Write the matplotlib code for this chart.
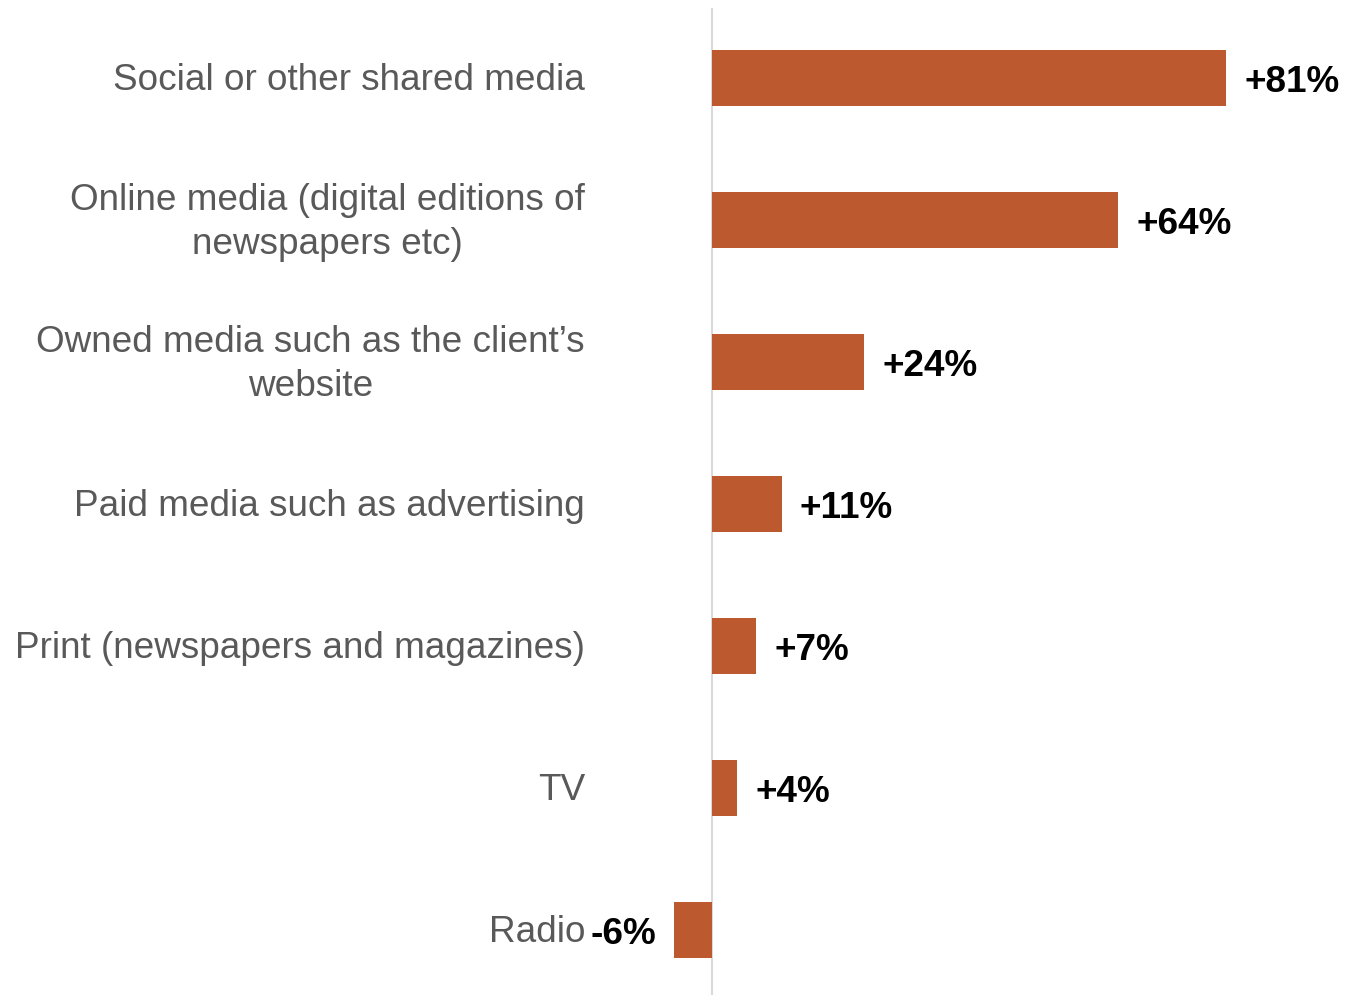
import matplotlib
matplotlib.use("Agg")
import matplotlib.pyplot as plt
from matplotlib.transforms import blended_transform_factory

plt.rcParams['font.family'] = ['Liberation Sans', 'DejaVu Sans']

categories = [
    "Social or other shared media",
    "Online media (digital editions of\nnewspapers etc)",
    "Owned media such as the client\u2019s\nwebsite",
    "Paid media such as advertising",
    "Print (newspapers and magazines)",
    "TV",
    "Radio",
]
values = [81, 64, 24, 11, 7, 4, -6]
value_labels = ["+81%", "+64%", "+24%", "+11%", "+7%", "+4%", "-6%"]

W, H, DPI = 1345, 996, 100
fig = plt.figure(figsize=(W / DPI, H / DPI), dpi=DPI)

# axes geometry in pixels: zero line at x=712, 6.35 px per percentage point
x0_px, scale = 712.0, 6.35
xmin, xmax = -10, 100
left_px = x0_px + xmin * scale
right_px = x0_px + xmax * scale
top_px, bottom_px = 8, 995
ax = fig.add_axes([left_px / W, 1 - bottom_px / H,
                   (right_px - left_px) / W, (bottom_px - top_px) / H])
ax.set_xlim(xmin, xmax)
ax.set_ylim(6.46, -0.49)

bar_color = "#BD592E"
ypos = list(range(len(categories)))
ax.barh(ypos, values, height=0.395, color=bar_color, edgecolor="none", zorder=2)
ax.axvline(0, color="#d9d9d9", lw=1.5, zorder=1)

for s in ax.spines.values():
    s.set_visible(False)
ax.set_xticks([])
ax.set_yticks([])

fs = 26.6
# category labels, right-aligned at a fixed pixel column
trans = blended_transform_factory(fig.transFigure, ax.transData)
for y, lab in zip(ypos, categories):
    ax.annotate(lab, (585 / W, y), xycoords=trans, xytext=(0, -2.2),
                textcoords="offset points", ha="right", va="center",
                multialignment="center", fontsize=fs, color="#595959",
                linespacing=1.32)

# value labels beside each bar
off = 13
for y, v, lab in zip(ypos, values, value_labels):
    dx = off if v >= 0 else -off
    ax.annotate(lab, (v, y), xytext=(dx, -3.6), textcoords="offset points",
                ha="left" if v >= 0 else "right", va="center", fontsize=fs,
                fontweight="bold", color="black")

fig.savefig("out.png", dpi=DPI)
